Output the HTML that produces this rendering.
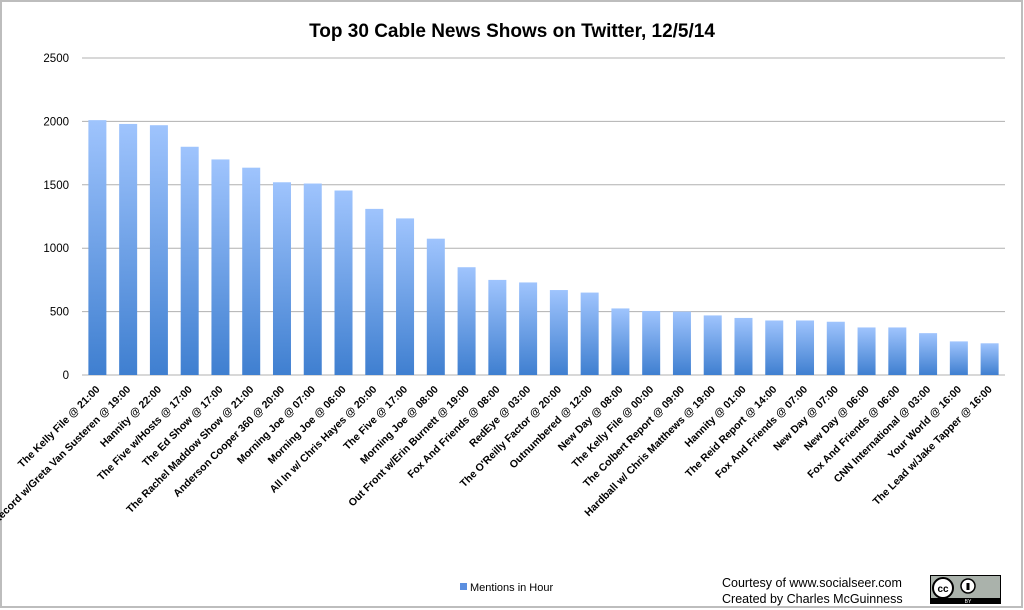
<!DOCTYPE html>
<html><head><meta charset="utf-8"><style>
body{margin:0;background:#fff;}
svg{display:block;font-family:"Liberation Sans",sans-serif;}
</style></head><body>
<svg id="chart" width="1024" height="610" viewBox="0 0 1024 610">
<defs><linearGradient id="bg" x1="0" y1="0" x2="0" y2="1"><stop offset="0" stop-color="#9fc4fd"/><stop offset="1" stop-color="#3f7fd0"/></linearGradient></defs>
<rect x="1" y="1" width="1021" height="606" fill="#fff" stroke="#bdbdbd" stroke-width="2"/>
<text x="512" y="37" text-anchor="middle" font-size="19" font-weight="bold" fill="#000">Top 30 Cable News Shows on Twitter, 12/5/14</text>
<g id="grid"></g><g id="bars"></g><g id="xlabels"></g>
<rect x="460" y="583" width="7" height="7" fill="#5b8fe0"/>
<text x="470" y="591" font-size="11" fill="#000">Mentions in Hour</text>
<text x="722" y="587" font-size="12.5" fill="#000">Courtesy of www.socialseer.com</text>
<text x="722" y="603" font-size="12.5" fill="#000">Created by Charles McGuinness</text>
<g>
<rect x="930" y="575" width="71" height="29" fill="#000"/>
<rect x="931" y="576" width="69" height="22" fill="#aab2ab"/>
<circle cx="943" cy="588" r="10" fill="#fff" stroke="#000" stroke-width="2"/>
<text x="943" y="592" font-size="10" font-weight="bold" text-anchor="middle">cc</text>
<circle cx="968" cy="586" r="7" fill="#fff" stroke="#000" stroke-width="1.5"/>
<rect x="966.5" y="583" width="3" height="7" fill="#000"/>
<text x="968" y="603" font-size="5" fill="#fff" text-anchor="middle">BY</text>
</g>
</svg>
<script>
const categories=["The Kelly File @ 21:00","On The Record w/Greta Van Susteren @ 19:00","Hannity @ 22:00","The Five w/Hosts @ 17:00","The Ed Show @ 17:00","The Rachel Maddow Show @ 21:00","Anderson Cooper 360 @ 20:00","Morning Joe @ 07:00","Morning Joe @ 06:00","All In w/ Chris Hayes @ 20:00","The Five @ 17:00","Morning Joe @ 08:00","Out Front w/Erin Burnett @ 19:00","Fox And Friends @ 08:00","RedEye @ 03:00","The O'Reilly Factor @ 20:00","Outnumbered @ 12:00","New Day @ 08:00","The Kelly File @ 00:00","The Colbert Report  @ 09:00","Hardball w/ Chris Matthews @ 19:00","Hannity @ 01:00","The Reid Report @ 14:00","Fox And Friends @ 07:00","New Day @ 07:00","New Day @ 06:00","Fox And Friends @ 06:00","CNN International @ 03:00","Your World @ 16:00","The Lead w/Jake Tapper @ 16:00"];
const values=[2010,1980,1970,1800,1700,1635,1520,1510,1455,1310,1235,1075,850,750,730,670,650,525,505,500,470,450,430,430,420,375,375,330,265,250];
const yTicks=[0,500,1000,1500,2000,2500];
const NS="http://www.w3.org/2000/svg";
const left=82,right=1005,y0=375,yTop=58,yMax=2500;
const slot=(right-left)/categories.length,bw=18;
const y=v=>y0-(v/yMax)*(y0-yTop);
const x=i=>left+slot*(i+0.5);
function mk(t,a,p){const e=document.createElementNS(NS,t);for(const k in a)e.setAttribute(k,a[k]);p.appendChild(e);return e;}
const grid=document.getElementById('grid');
yTicks.forEach(t=>{
 const l=mk('line',{x1:left,x2:right,y1:y(t),y2:y(t),stroke:'#b0b0b0','stroke-width':1},grid);
 
 
 const tx=mk('text',{x:69,y:y(t)+4,'font-size':11.5,'text-anchor':'end',fill:'#000'},grid);
 tx.textContent=t;
 
 
});
const bars=document.getElementById('bars'),xl=document.getElementById('xlabels');
values.forEach((v,i)=>{
 const r=mk('rect',{x:x(i)-bw/2,y:y(v),width:bw,height:y0-y(v),fill:'url(#bg)'},bars);
 
 
 const cx=x(i)+3,cy=390;
 const t=mk('text',{x:cx,y:cy,'font-size':10.5,'font-weight':'bold','text-anchor':'end',transform:`rotate(-45 ${cx} ${cy})`,fill:'#000'},xl);
 t.textContent=categories[i];
 
 
});
</script>
</body></html>
